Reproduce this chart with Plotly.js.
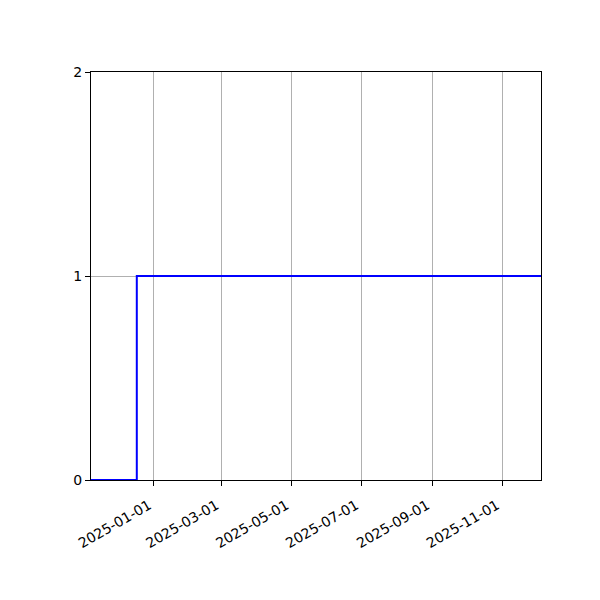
<!DOCTYPE html>
<html>
<head>
<meta charset="utf-8">
<script src="https://cdn.plot.ly/plotly-3.0.1.min.js"></script>
<style>
  body { margin: 0; background: #fff; }
  #myDiv { width: 600px; height: 600px; }
</style>
</head>
<body>
<div id="myDiv"></div>
<script>
// step series
var dates = ['2024-11-07', '2024-12-17', '2025-12-05'];
var values = [0, 1, 1];

var tickDates = ['2025-01-01', '2025-03-01', '2025-05-01', '2025-07-01', '2025-09-01', '2025-11-01'];
var yTicks = [0, 1, 2];

var trace = {
  x: dates,
  y: values,
  type: 'scatter',
  mode: 'lines',
  line: { shape: 'hv', color: '#0000ff', width: 2 },
  hoverinfo: 'skip'
};

var layout = {
  width: 600,
  height: 600,
  margin: { l: 91, r: 59, t: 72, b: 120 },
  paper_bgcolor: '#ffffff',
  plot_bgcolor: '#ffffff',
  showlegend: false,
  font: { family: 'DejaVu Sans', size: 14, color: '#000000' },
  xaxis: {
    type: 'date',
    range: [dates[0], dates[dates.length - 1]],
    tickvals: tickDates,
    ticktext: tickDates,
    tickangle: -30,
    ticklabelstandoff: 6,
    ticklabelshift: -5,
    ticks: 'outside',
    ticklen: 5,
    tickwidth: 1,
    tickcolor: '#000000',
    showgrid: true,
    gridcolor: '#b0b0b0',
    gridwidth: 1,
    zeroline: false,
    showline: true,
    linecolor: '#000000',
    linewidth: 1,
    mirror: true
  },
  yaxis: {
    range: [0, 2],
    tickvals: yTicks,
    ticks: 'outside',
    ticklen: 5,
    tickwidth: 1,
    tickcolor: '#000000',
    showgrid: true,
    gridcolor: '#b0b0b0',
    gridwidth: 1,
    zeroline: false,
    showline: true,
    linecolor: '#000000',
    linewidth: 1,
    mirror: true
  }
};

Plotly.newPlot('myDiv', [trace], layout, { displayModeBar: false, staticPlot: true });
</script>
</body>
</html>
